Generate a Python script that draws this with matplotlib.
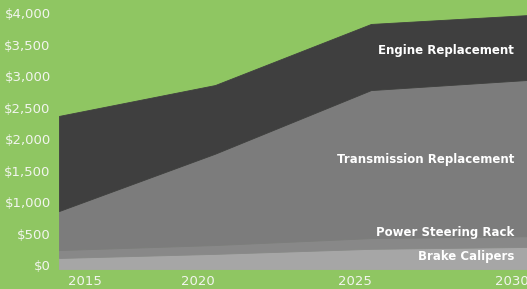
import numpy as np
import matplotlib.pyplot as plt
from matplotlib.transforms import ScaledTranslation

# === Data ===
years = [2015, 2020, 2025, 2030]
brake_calipers = [175, 240, 320, 350]
power_steering = [125, 140, 170, 170]
transmission = [620, 1450, 2350, 2480]
engine = [1510, 1090, 1050, 1030]

series_names = ["Brake Calipers", "Power Steering Rack",
                "Transmission Replacement", "Engine Replacement"]
colors = ["#a6a6a6", "#888888", "#7c7c7c", "#3f3f3f"]

y_ticks = [0, 500, 1000, 1500, 2000, 2500, 3000, 3500, 4000]
x_tick_labels = ["2015", "2020", "2025", "2030"]
x_tick_pos = [2015.83, 2019.46, 2024.49, 2029.52]

bg = "#8fc662"
txt = "#f2f5ee"

fig = plt.figure(figsize=(5.27, 2.89), dpi=100, facecolor=bg)
ax = fig.add_axes([59 / 527, 20 / 289, 468 / 527, 269 / 289])
ax.set_facecolor(bg)

polys = ax.stackplot(years, brake_calipers, power_steering, transmission, engine,
                     colors=colors)
for p, c in zip(polys, colors):
    p.set_edgecolor(c)
    p.set_linewidth(0.6)

ax.set_xlim(2015, 2030)
ax.set_ylim(0, 4270)

ax.set_yticks(y_ticks)
ax.set_yticklabels([f"${v:,}" for v in y_ticks])
ax.set_xticks(x_tick_pos)
ax.set_xticklabels(x_tick_labels)
ax.tick_params(axis="both", length=0, colors=txt, labelsize=9.5)
ax.tick_params(axis="y", pad=6)
ax.tick_params(axis="x", pad=4)
for lab in ax.get_yticklabels():
    lab.set_transform(lab.get_transform() + ScaledTranslation(0, 4 / 100, fig.dpi_scale_trans))
for s in ax.spines.values():
    s.set_visible(False)

# series labels, right aligned near the right edge
label_y = [206, 587, 1746, 3476]
for name, ly in zip(series_names, label_y):
    ax.text(0.972, ly, name, transform=ax.get_yaxis_transform(),
            ha="right", va="center", color="white",
            fontsize=8.5, fontweight="bold")

fig.savefig("out.png", dpi=100, facecolor=bg)
